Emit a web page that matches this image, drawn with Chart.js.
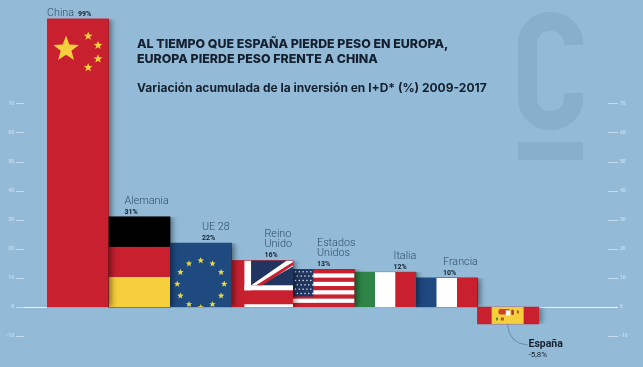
<!DOCTYPE html>
<html>
<head>
<meta charset="utf-8">
<title>Variación acumulada de la inversión en I+D</title>
<script src="https://cdn.jsdelivr.net/npm/chart.js@4"></script>
<style>
    html, body { margin: 0; padding: 0; background: #93BBD8; }
    #inversion_chart { display: block; }
</style>
</head>
<body>
<canvas id="inversion_chart" width="643" height="367"></canvas>
<script>
// Chart data
const categories = ["China", "Alemania", "UE 28", "Reino Unido", "Estados Unidos", "Italia", "Francia", "España"];
const values = [99, 31, 22, 16, 13, 12, 10, -5.8];
const valueLabels = ["99%", "31%", "22%", "16%", "13%", "12%", "10%", "-5,8%"];
const tickValues = [-10, 0, 10, 20, 30, 40, 50, 60, 70];
const titleLines = ["AL TIEMPO QUE ESPAÑA PIERDE PESO EN EUROPA,", "EUROPA PIERDE PESO FRENTE A CHINA"];
const subtitle = "Variación acumulada de la inversión en I+D* (%) 2009-2017";

// Styles
const RED = "#C8202F", YELLOW = "#F6CF3C", BLUE = "#1F4A80", WHITE = "#FFFFFF", NAVY = "#20355F", GREEN = "#2F8547";
const TICK_COLOR = "rgba(213,230,242,0.75)";
const baseColors = [RED, "#000000", BLUE, RED, RED, GREEN, BLUE, RED];
const labelLines = [["China"], ["Alemania"], ["UE 28"], ["Reino", "Unido"], ["Estados", "Unidos"], ["Italia"], ["Francia"], ["España"]];
const labelOffset = [0, 16, 32, 33, 24, 39, 27, 51];

function star(c, cx, cy, r, color) {
    c.fillStyle = color;
    c.beginPath();
    for (let i = 0; i < 10; i++) {
        const rad = i % 2 ? r * 0.42 : r;
        const a = -Math.PI / 2 + i * Math.PI / 5;
        c.lineTo(cx + rad * Math.cos(a), cy + rad * Math.sin(a));
    }
    c.closePath();
    c.fill();
}

function bands(c, x, y, w, h, colors) {
    colors.forEach((color, i) => {
        c.fillStyle = color;
        c.fillRect(x + w * i / colors.length, y, w / colors.length, h);
    });
}

// Flag painted inside each bar rectangle
const flags = [
    (c, x, y, w, h) => {
        star(c, x + w * 0.31, y + w * 0.49, 13.5, YELLOW);
        [[0.67, 0.28], [0.83, 0.43], [0.83, 0.65], [0.67, 0.79]].forEach(p => star(c, x + w * p[0], y + w * p[1], 4.6, YELLOW));
    },
    (c, x, y, w, h) => {
        c.fillStyle = "#000000";
        c.fillRect(x, y, w, h / 3);
        c.fillStyle = RED;
        c.fillRect(x, y + h / 3, w, h / 3);
        c.fillStyle = YELLOW;
        c.fillRect(x, y + h * 2 / 3, w, h / 3);
    },
    (c, x, y, w, h) => {
        const cx = x + w / 2, cy = y + h * 0.64;
        for (let i = 0; i < 12; i++) {
            const a = i * Math.PI / 6;
            star(c, cx + 23.5 * Math.cos(a), cy + 23.5 * Math.sin(a), 3.4, "#E9D843");
        }
    },
    (c, x, y, w, h) => {
        c.fillStyle = WHITE;
        c.fillRect(x + w * 0.21, y, w * 0.11, h * 0.64);
        c.fillRect(x + w * 0.21, y + h * 0.53, w * 0.79, h * 0.11);
        c.fillRect(x + w * 0.21, y + h * 0.94, w * 0.79, h * 0.06);
        c.fillStyle = NAVY;
        c.fillRect(x + w * 0.32, y, w * 0.68, h * 0.53);
        // diagonal of the union jack
        c.fillStyle = WHITE;
        c.beginPath();
        c.moveTo(x + w * 0.32, y + h * 0.53);
        c.lineTo(x + w * 0.46, y + h * 0.53);
        c.lineTo(x + w, y + h * 0.13);
        c.lineTo(x + w, y);
        c.lineTo(x + w * 0.9, y);
        c.closePath();
        c.fill();
        c.fillStyle = RED;
        c.beginPath();
        c.moveTo(x + w * 0.4, y + h * 0.53);
        c.lineTo(x + w * 0.5, y + h * 0.53);
        c.lineTo(x + w, y + h * 0.1);
        c.lineTo(x + w, y + h * 0.03);
        c.closePath();
        c.fill();
    },
    (c, x, y, w, h) => {
        for (let i = 1; i < 9; i += 2) {
            c.fillStyle = WHITE;
            c.fillRect(x, y + h * i / 9, w, h / 9);
        }
        c.fillStyle = NAVY;
        c.fillRect(x, y, w * 0.33, h * 0.72);
        c.fillStyle = "#E8ECF4";
        for (let r = 0; r < 6; r++) {
            for (let k = 0; k < 5; k++) {
                c.fillRect(x + w * 0.03 + k * w * 0.062 + (r % 2) * w * 0.03, y + h * 0.05 + r * h * 0.115, 1.3, 1.3);
            }
        }
    },
    (c, x, y, w, h) => bands(c, x, y, w, h, [GREEN, WHITE, RED]),
    (c, x, y, w, h) => bands(c, x, y, w, h, [BLUE, WHITE, RED]),
    (c, x, y, w, h) => {
        c.fillStyle = YELLOW;
        c.fillRect(x + w * 0.23, y, w * 0.52, h);
        c.fillStyle = "#D2402E";
        c.beginPath();
        c.roundRect(x + w * 0.34, y + h * 0.12, w * 0.19, h * 0.32, 2);
        c.fill();
        c.fillStyle = WHITE;
        c.fillRect(x + w * 0.46, y + h * 0.2, w * 0.07, h * 0.3);
        c.fillStyle = "#A03A2A";
        c.fillRect(x + w * 0.55, y + h * 0.16, w * 0.04, h * 0.3);
        c.fillStyle = "#5E8A3A";
        c.fillRect(x + w * 0.3, y + h * 0.62, 2, 3);
        c.fillStyle = "#B5532E";
        c.fillRect(x + w * 0.38, y + h * 0.62, 3, 3);
        c.fillRect(x + w * 0.64, y + h * 0.2, 2, 3);
    }
];

const paperPlugin = {
    id: "paper",
    beforeDatasetsDraw(chart) {
        const c = chart.ctx;
        const left = chart.scales.y, right = chart.scales.y2;
        c.save();
        // watermark
        c.strokeStyle = "#88B0CD";
        c.lineWidth = 19;
        c.beginPath();
        c.moveTo(573.5, 45);
        c.lineTo(573.5, 40);
        c.arcTo(573.5, 21.5, 550, 21.5, 22);
        c.arcTo(527.5, 21.5, 527.5, 60, 22);
        c.lineTo(527.5, 98);
        c.arcTo(527.5, 120.5, 550, 120.5, 22);
        c.arcTo(573.5, 120.5, 573.5, 98, 22);
        c.lineTo(573.5, 93);
        c.stroke();
        c.fillStyle = "#88B0CD";
        c.fillRect(518, 142, 65, 18);
        // tick dashes on both sides
        c.strokeStyle = TICK_COLOR;
        c.lineWidth = 1;
        tickValues.forEach(v => {
            const py = Math.round(left.getPixelForValue(v)) + 0.5;
            c.beginPath();
            c.moveTo(16, py);
            c.lineTo(24, py);
            c.moveTo(right.left + 69, py);
            c.lineTo(right.left + 79, py);
            c.stroke();
        });
        // zero line
        const zero = Math.round(left.getPixelForValue(0)) + 0.5;
        c.strokeStyle = "#EAF3F9";
        c.beginPath();
        c.moveTo(24, zero);
        c.lineTo(right.left + 79, zero);
        c.stroke();
        c.restore();
    },
    afterDatasetsDraw(chart) {
        const c = chart.ctx;
        const bars = chart.getDatasetMeta(0).data;
        c.save();
        // right to left so every bar throws its shadow on the next one
        for (let i = bars.length - 1; i >= 0; i--) {
            const b = bars[i];
            const x = b.x - b.width / 2, y = Math.min(b.y, b.base), h = Math.abs(b.base - b.y);
            c.save();
            // shadow only falls to the right
            c.beginPath();
            c.rect(x, y, b.width + 12, h);
            c.clip();
            c.shadowColor = "rgba(0,0,0,0.5)";
            c.shadowBlur = 6;
            c.shadowOffsetX = 2;
            c.fillStyle = baseColors[i];
            c.fillRect(x, y, b.width, h);
            c.restore();
            c.save();
            c.beginPath();
            c.rect(x, y, b.width, h);
            c.clip();
            flags[i](c, x, y, b.width, h);
            c.restore();
        }
        // labels above the bars
        c.textBaseline = "alphabetic";
        bars.forEach((b, i) => {
            const x = b.x - b.width / 2 + labelOffset[i];
            const top = Math.min(b.y, b.base);
            if (i === 0) {
                c.font = "300 10.8px Roboto";
                c.fillStyle = "#2F4D68";
                c.fillText(labelLines[i][0], x, top - 3);
                c.font = "700 7px Roboto";
                c.fillStyle = "#14202E";
                c.fillText(valueLabels[i], x + 31, top - 3);
            } else if (values[i] < 0) {
                c.font = "700 10.5px Roboto";
                c.fillStyle = "#14202E";
                c.fillText(labelLines[i][0], x, b.y + 23);
                c.font = "400 8px Roboto";
                c.fillText(valueLabels[i], x, b.y + 33);
                c.strokeStyle = "#5F7F99";
                c.lineWidth = 0.8;
                c.beginPath();
                c.moveTo(b.x - 1, b.y);
                c.quadraticCurveTo(b.x + 1, b.y + 20, x - 1, b.y + 21);
                c.stroke();
            } else {
                c.font = "700 7px Roboto";
                c.fillStyle = "#14202E";
                c.fillText(valueLabels[i], x, top - 3);
                c.font = "300 10.8px Roboto";
                c.fillStyle = "#2F4D68";
                const lines = labelLines[i];
                lines.forEach((line, k) => {
                    c.fillText(line, x, top - 4 - 9 * (lines.length - k) - (lines.length - 1 - k));
                });
            }
        });
        // titles
        c.fillStyle = "#14202E";
        c.font = "800 12.4px Inter";
        titleLines.forEach((line, k) => c.fillText(line, 137, 48 + k * 15));
        c.font = "700 12px Inter";
        c.fillText(subtitle, 137, 92);
        c.restore();
    }
};

const sideAxis = (position, padding, width) => ({
    position: position,
    min: -20.6,
    max: 105.5,
    border: { display: false },
    grid: { display: false, drawTicks: false },
    ticks: {
        padding: padding,
        autoSkip: false,
        color: TICK_COLOR,
        font: { family: "Roboto", size: 5, weight: "700" },
        callback: v => String(v)
    },
    afterBuildTicks: axis => { axis.ticks = tickValues.map(value => ({ value })); },
    afterFit: axis => {
        axis.width = width;
        axis.paddingTop = 0;
        axis.paddingBottom = 0;
    }
});

new Chart(document.getElementById("inversion_chart"), {
    type: "bar",
    data: {
        labels: categories,
        datasets: [{
            data: values,
            backgroundColor: baseColors,
            barPercentage: 1,
            categoryPercentage: 1,
            borderWidth: 0
        }]
    },
    options: {
        responsive: false,
        animation: false,
        layout: { padding: 0, autoPadding: false },
        plugins: { legend: { display: false }, tooltip: { enabled: false }, title: { display: false } },
        scales: {
            x: { display: false },
            y: sideAxis("left", 33, 47),
            y2: sideAxis("right", 81, 104)
        }
    },
    plugins: [paperPlugin]
});
</script>
</body>
</html>
